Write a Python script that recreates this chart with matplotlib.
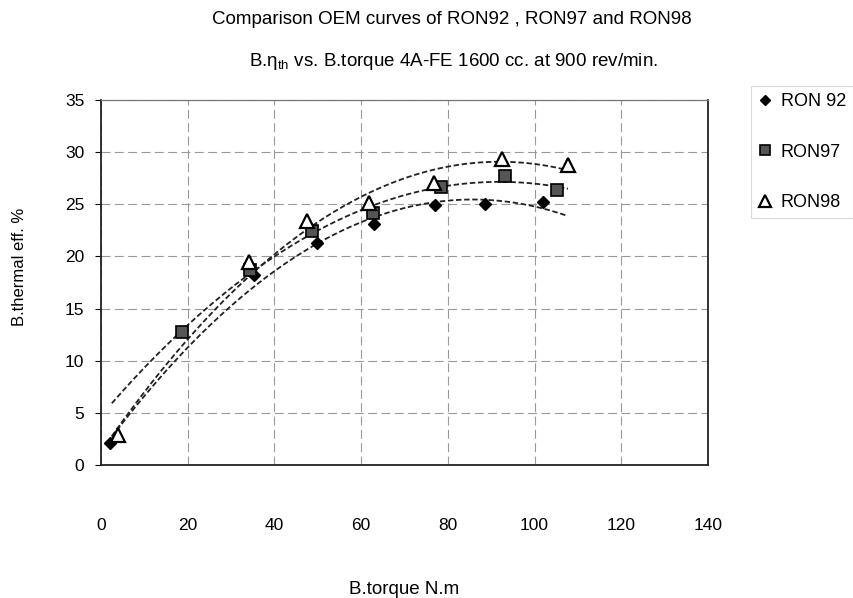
import numpy as np
import matplotlib
matplotlib.use("Agg")
import matplotlib.pyplot as plt

plt.rcParams['font.family'] = ['Liberation Sans', 'DejaVu Sans']

# Data
x92 = [2.1, 35.3, 49.8, 63.0, 77.0, 88.6, 101.9]
y92 = [2.1, 18.2, 21.3, 23.1, 24.9, 25.0, 25.2]

x97 = [18.7, 34.4, 48.7, 62.7, 78.4, 93.2, 105.2]
y97 = [12.75, 18.7, 22.4, 24.2, 26.7, 27.7, 26.4]

x98 = [3.9, 34.1, 47.5, 61.8, 76.8, 92.5, 107.7]
y98 = [2.9, 19.5, 23.4, 25.1, 27.0, 29.3, 28.8]

labels = ['RON 92', 'RON97', 'RON98']
xticks = [0, 20, 40, 60, 80, 100, 120, 140]
yticks = [0, 5, 10, 15, 20, 25, 30, 35]

fig = plt.figure(figsize=(8.54, 5.98), dpi=100)
ax = fig.add_axes([101/854, 1-465/598, (708-101)/854, (465-100)/598])

series = [
    (x92, y92, dict(marker='D', markersize=6.5, markerfacecolor='black', markeredgecolor='black')),
    (x97, y97, dict(marker='s', markersize=8.5, markerfacecolor='#555555', markeredgecolor='black', markeredgewidth=1.2)),
    (x98, y98, dict(marker='^', markersize=10, markerfacecolor='white', markeredgecolor='black', markeredgewidth=1.6)),
]

xs = np.linspace(2.5, 107.7, 200)
handles = []
for (xv, yv, st), lab in zip(series, labels):
    c = np.polyfit(xv, yv, 2)
    ax.plot(xs, np.polyval(c, xs), color='#222222', lw=1.3, ls=(0, (3, 1.5)), zorder=2)
for (xv, yv, st), lab in zip(series, labels):
    h, = ax.plot(xv, yv, ls='none', zorder=3, label=lab, **st)
    handles.append(h)

ax.set_xlim(0, 140)
ax.set_ylim(0, 35)
ax.set_xticks(xticks)
ax.set_yticks(yticks)
ax.grid(True, color='#999999', lw=0.8, ls=(0, (8, 4)))
ax.tick_params(axis='x', length=0, pad=38, labelsize=12.5)
ax.tick_params(axis='y', length=4, pad=8, labelsize=12.5, direction='out')
for s in ['left', 'bottom', 'right']:
    ax.spines[s].set_color('#222222')
    ax.spines[s].set_linewidth(1.3)
ax.spines['top'].set_color('#777777')
ax.spines['top'].set_linewidth(0.9)

fig.text(20/854, 1-267/598, 'B.thermal eff. %', rotation=90, ha='center', va='center', fontsize=12)
fig.text(404/854, 1-589/598, 'B.torque N.m', ha='center', va='center', fontsize=13.5)

fig.text(452/854, 1-20/598, 'Comparison OEM curves of RON92 , RON97 and RON98',
         ha='center', va='center', fontsize=13.5)
fig.text(453/854, 1-62/598, r'B.$\mathregular{\eta_{th}}$ vs. B.torque 4A-FE 1600 cc. at 900 rev/min.',
         ha='center', va='center', fontsize=13.5)

leg = fig.legend(handles=handles, labels=labels, loc='upper left',
                 bbox_to_anchor=(742/854, 1-77/598), frameon=True, fontsize=13,
                 labelspacing=1.85, handlelength=0.8, handletextpad=0.45,
                 markerscale=0.85, borderpad=0.4)
leg.get_frame().set_edgecolor('#d0d0d0')
leg.get_frame().set_linewidth(0.8)
leg.get_frame().set_boxstyle('square', pad=0)

fig.savefig('out.png', dpi=100)
